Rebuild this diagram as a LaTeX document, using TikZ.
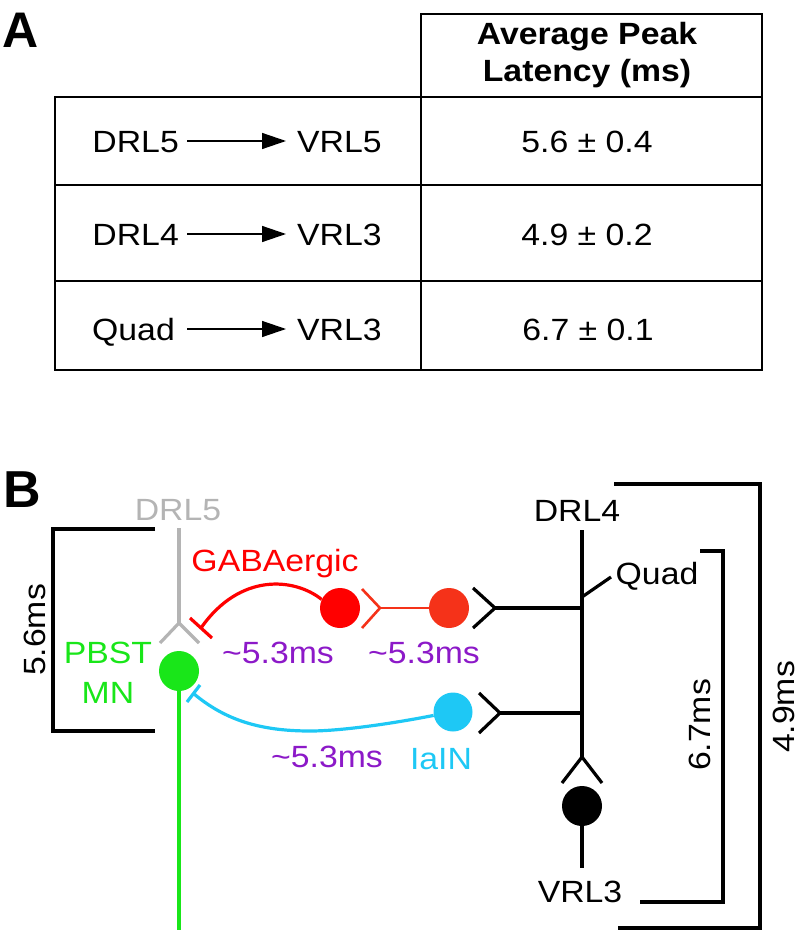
\documentclass[tikz,border=0pt]{standalone}
\usepackage{fontspec}
\setmainfont{Liberation Sans}
\newfontfamily\fontW[FakeStretch=1.1]{Liberation Sans}
\usetikzlibrary{arrows.meta}
\definecolor{cgray}{RGB}{180,180,180}
\definecolor{cgreen}{RGB}{25,230,25}
\definecolor{cred}{RGB}{255,0,0}
\definecolor{cred2}{RGB}{245,50,25}
\definecolor{cblue}{RGB}{30,200,245}
\definecolor{cpurple}{RGB}{140,25,200}
\begin{document}
\begin{tikzpicture}[x=1pt,y=-1pt,
  tabtxt/.style={font=\fontW\fontsize{30.7}{37}\selectfont, inner sep=0pt, text height=22pt, text depth=0pt},
  tabhead/.style={font=\fontW\bfseries\fontsize{30.7}{37}\selectfont, inner sep=0pt},
  btxt/.style={font=\fontW\fontsize{30.7}{37}\selectfont, inner sep=0pt},
  tabline/.style={line width=1.8pt, line join=miter},
  tabarrow/.style={line width=1.4pt, -{Triangle[length=24pt,width=16pt]}},
  axon/.style={line width=3.2pt, line join=round},
  thinaxon/.style={line width=2.6pt, line join=round},
  soma/.style={circle, inner sep=0pt, minimum size=40pt},
  bracketline/.style={line width=3.2pt, line join=miter}
]
\useasboundingbox (0,0) rectangle (799,931);

% ---------- Panel A ----------
\node[font=\bfseries\fontsize{50}{60}\selectfont, inner sep=0pt, anchor=base west] (labA) at (2,48) {A};

\draw[tabline] (421,14) rectangle (762,97);
\draw[tabline] (55,97) rectangle (762,370);
\draw[tabline] (55,185) -- (762,185);
\draw[tabline] (55,281) -- (762,281);
\draw[tabline] (421,97) -- (421,370);

\node[tabhead, anchor=base] (h1) at (587,45) {Average Peak};
\node[tabhead, anchor=base] (h2) at (587,82) {Latency (ms)};

\node[tabtxt, anchor=base east] (d5) at (179,152) {DRL5};
\node[tabtxt, anchor=base west] (v5) at (297,152) {VRL5};
\draw[tabarrow, shorten <=8pt, shorten >=11pt] (d5.east) -- (v5.west);
\node[tabtxt, anchor=base] (val1) at (587,152) {5.6 ± 0.4};

\node[tabtxt, anchor=base east] (d4) at (179,245) {DRL4};
\node[tabtxt, anchor=base west] (v3a) at (297,245) {VRL3};
\draw[tabarrow, shorten <=8pt, shorten >=11pt] (d4.east) -- (v3a.west);
\node[tabtxt, anchor=base] (val2) at (587,245) {4.9 ± 0.2};

\node[tabtxt, anchor=base east] (qd) at (175,340) {Quad};
\node[tabtxt, anchor=base west] (v3b) at (297,340) {VRL3};
\draw[tabarrow, shorten <=12pt, shorten >=11pt] (qd.east) -- (v3b.west);
\node[tabtxt, anchor=base] (val3) at (588,340) {6.7 ± 0.1};

% ---------- Panel B ----------
\node[font=\bfseries\fontsize{52}{60}\selectfont, inner sep=0pt, anchor=base west] (labB) at (3,507) {B};

% texts
\node[btxt, text=cgray, anchor=base] (tDRL5) at (178,520) {DRL5};
\node[btxt, text=cred, anchor=base] (tGABA) at (275,571) {GABAergic};
\node[btxt, text=cgreen, anchor=base] (tPBST) at (108,663) {PBST};
\node[btxt, text=cgreen, anchor=base] (tMN) at (108,703) {MN};
\node[btxt, text=cpurple, anchor=base] (tl1) at (278,663) {\textasciitilde5.3ms};
\node[btxt, text=cpurple, anchor=base] (tl2) at (424,663) {\textasciitilde5.3ms};
\node[btxt, text=cpurple, anchor=base] (tl3) at (327,767) {\textasciitilde5.3ms};
\node[btxt, text=cblue, anchor=base] (tIaIN) at (441,769) {IaIN};
\node[btxt, anchor=base] (tDRL4) at (577,521) {DRL4};
\node[btxt, anchor=base] (tQuad) at (657,584) {Quad};
\node[btxt, anchor=base] (tVRL3) at (580,902) {VRL3};
\node[btxt, anchor=base, rotate=90] (t56) at (45,630) {5.6ms};
\node[btxt, anchor=base, rotate=90] (t67) at (710,725) {6.7ms};
\node[btxt, anchor=base, rotate=90] (t49) at (794,707) {4.9ms};

% brackets
\draw[bracketline] (155,529) -- (53,529) -- (53,731) -- (155,731);
\draw[bracketline] (700,551) -- (723,551) -- (723,902) -- (640,902);
\draw[bracketline] (614,484) -- (760,484) -- (760,928) -- (618,928);

% coordinates
\coordinate (gtop) at (179,528);
\coordinate (gfork) at (179,623);
\coordinate (gL) at (160,643);
\coordinate (gR) at (199,643);
\coordinate (gbot) at (179,930);
\coordinate (rT1) at (190,618);
\coordinate (rT2) at (212,638);
\coordinate (rTend) at (201,628);
\coordinate (bT1) at (187,702);
\coordinate (bT2) at (200,685);
\coordinate (bTend) at (193.5,693.5);
\coordinate (rcTip) at (380,608);
\coordinate (rcA) at (362,589);
\coordinate (rcB) at (362,628);
\coordinate (kcTip) at (495,608);
\coordinate (kcA) at (473,588);
\coordinate (kcB) at (473,628);
\coordinate (bcTip) at (500,713);
\coordinate (bcA) at (479,693);
\coordinate (bcB) at (479,733);
\coordinate (ktop) at (582,530);
\coordinate (kfork) at (582,757);
\coordinate (kL) at (562,783);
\coordinate (kR) at (602,783);
\coordinate (kj1) at (582,608);
\coordinate (kj2) at (582,713);
\coordinate (qj) at (582,597);
\coordinate (qend) at (611,577);
\coordinate (kbot) at (582,868);

% somata
\node[soma, fill=cgreen] (mn) at (179,671) {};
\node[soma, fill=cred] (gaba1) at (340,608) {};
\node[soma, fill=cred2] (gaba2) at (449,608) {};
\node[soma, fill=cblue, minimum size=39pt] (iain) at (453,712) {};
\node[soma, fill=black] (vrl) at (582,806) {};

% gray DRL5 afferent
\draw[axon, cgray] (gtop) -- (gfork);
\draw[axon, cgray] (gL) -- (gfork) -- (gR);

% green motor neuron axon
\draw[axon, cgreen] (mn.center) -- (gbot);

% red GABAergic inhibitory connection
\draw[axon, cred] (gaba1.155) .. controls (295,578) and (240,572) .. (rTend);
\draw[axon, cred] (rT1) -- (rT2);

% red2 to red1
\draw[thinaxon, cred2] (gaba2.center) -- (rcTip);
\draw[thinaxon, cred2] (rcA) -- (rcTip) -- (rcB);

% blue IaIN inhibitory connection
\draw[axon, cblue] (iain.190) .. controls (390,724) and (340,731) .. (310,731)
   .. controls (260,731) and (225,720) .. (bTend);
\draw[axon, cblue] (bT1) -- (bT2);

% black afferent trunk
\draw[axon] (ktop) -- (kfork);
\draw[axon] (kL) -- (kfork) -- (kR);
\draw[axon] (qj) -- (qend);
\draw[axon] (kj1) -- (kcTip);
\draw[axon] (kcA) -- (kcTip) -- (kcB);
\draw[axon] (kj2) -- (bcTip);
\draw[axon] (bcA) -- (bcTip) -- (bcB);
\draw[axon] (vrl.center) -- (kbot);
\end{tikzpicture}
\end{document}
